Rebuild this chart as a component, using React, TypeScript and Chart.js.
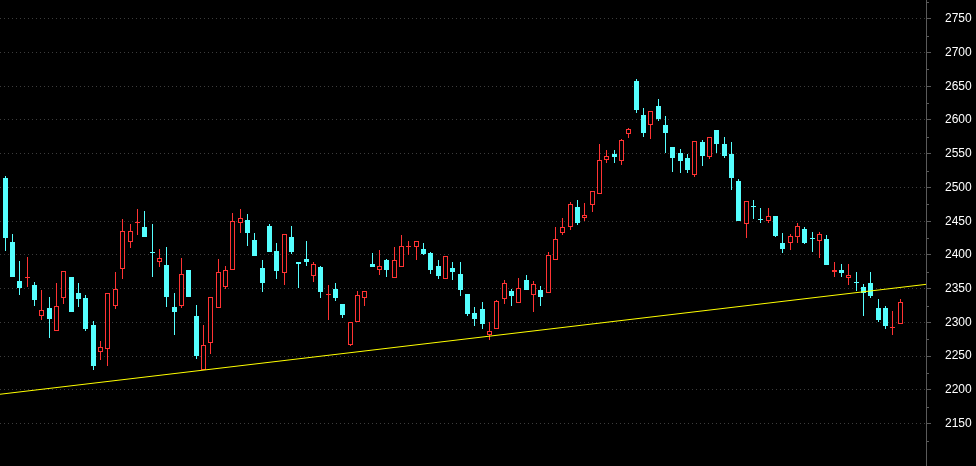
import React, { useEffect, useRef } from 'react';
import { Chart, registerables } from 'chart.js';

Chart.register(...registerables);

// Candle index of the first entry (partially clipped at the left edge)
const firstIndex = -1;

const opens = [
  2514,
  2514, 2419, 2361, 2366, 2355, 2309, 2321, 2287, 2336, 2368,
  2343, 2336, 2296, 2256, 2260, 2324, 2379, 2419, 2447, 2441,
  2404, 2389, 2385, 2323, 2324, 2377, 2310, 2230, 2269, 2322,
  2352, 2377, 2447, 2452, 2422, 2380, 2443, 2406, 2373, 2427,
  2390, 2394, 2369, 2382, 2340, 2350, 2327, 2266, 2301, 2336,
  2386, 2377, 2392, 2366, 2382, 2412, 2412, 2409, 2403, 2384,
  2364, 2381, 2372, 2342, 2314, 2320, 2282, 2291, 2335, 2347,
  2329, 2363, 2340, 2348, 2344, 2393, 2433, 2442, 2471, 2455,
  2474, 2491, 2541, 2550, 2539, 2579, 2658, 2608, 2592, 2620,
  2593, 2560, 2551, 2543, 2519, 2568, 2545, 2585, 2565, 2550,
  2509, 2446, 2472, 2453, 2450, 2458, 2417, 2417, 2427, 2439,
  2425, 2420, 2423, 2375, 2378, 2366, 2360, 2353, 2359, 2321,
  2321, 2292, 2298,
];
const highs = [
  2516,
  2517, 2431, 2391, 2397, 2360, 2348, 2337, 2358, 2376, 2368,
  2359, 2340, 2302, 2273, 2343, 2374, 2453, 2446, 2468, 2465,
  2446, 2409, 2412, 2344, 2396, 2378, 2326, 2296, 2338, 2394,
  2384, 2462, 2468, 2461, 2433, 2393, 2446, 2418, 2431, 2443,
  2390, 2421, 2389, 2383, 2356, 2358, 2328, 2301, 2346, 2347,
  2403, 2408, 2394, 2412, 2430, 2421, 2421, 2418, 2404, 2392,
  2399, 2390, 2390, 2342, 2323, 2330, 2301, 2333, 2363, 2350,
  2366, 2370, 2361, 2354, 2404, 2441, 2454, 2478, 2481, 2477,
  2495, 2565, 2556, 2556, 2572, 2588, 2661, 2618, 2613, 2631,
  2606, 2560, 2557, 2550, 2569, 2571, 2575, 2585, 2575, 2568,
  2513, 2480, 2481, 2470, 2469, 2458, 2433, 2431, 2448, 2442,
  2434, 2434, 2430, 2389, 2387, 2387, 2375, 2357, 2375, 2334,
  2325, 2317, 2334,
];
const lows = [
  2503,
  2406, 2367, 2340, 2352, 2324, 2303, 2277, 2287, 2327, 2315,
  2323, 2288, 2230, 2245, 2235, 2320, 2365, 2410, 2429, 2426,
  2367, 2382, 2323, 2282, 2321, 2337, 2246, 2230, 2253, 2321,
  2350, 2377, 2432, 2413, 2398, 2345, 2404, 2365, 2356, 2401,
  2351, 2384, 2360, 2336, 2303, 2332, 2307, 2265, 2300, 2324,
  2382, 2370, 2367, 2366, 2382, 2400, 2392, 2400, 2372, 2364,
  2364, 2363, 2339, 2310, 2295, 2290, 2274, 2291, 2328, 2325,
  2329, 2348, 2315, 2325, 2344, 2393, 2430, 2437, 2444, 2450,
  2463, 2491, 2536, 2536, 2533, 2573, 2611, 2575, 2572, 2599,
  2551, 2523, 2522, 2522, 2516, 2532, 2542, 2551, 2544, 2496,
  2450, 2425, 2453, 2447, 2447, 2426, 2403, 2408, 2417, 2416,
  2405, 2395, 2385, 2367, 2367, 2355, 2347, 2310, 2336, 2300,
  2291, 2281, 2298,
];
const closes = [
  2506,
  2425, 2368, 2351, 2366, 2333, 2319, 2305, 2324, 2376, 2315,
  2335, 2290, 2236, 2263, 2343, 2350, 2435, 2435, 2447, 2426,
  2403, 2395, 2337, 2315, 2372, 2337, 2251, 2266, 2338, 2375,
  2377, 2450, 2454, 2433, 2399, 2358, 2405, 2376, 2431, 2404,
  2386, 2390, 2387, 2345, 2340, 2336, 2311, 2300, 2340, 2346,
  2382, 2384, 2377, 2393, 2413, 2412, 2421, 2402, 2377, 2369,
  2398, 2375, 2348, 2312, 2305, 2297, 2287, 2332, 2359, 2339,
  2351, 2348, 2357, 2337, 2400, 2423, 2441, 2475, 2447, 2459,
  2494, 2540, 2546, 2545, 2571, 2586, 2614, 2581, 2613, 2602,
  2580, 2544, 2539, 2526, 2569, 2546, 2574, 2565, 2547, 2514,
  2450, 2480, 2471, 2452, 2458, 2428, 2409, 2428, 2443, 2418,
  2424, 2431, 2385, 2378, 2373, 2371, 2359, 2344, 2339, 2303,
  2295, 2292, 2331,
];

// Trend line end values (at left and right edges of the plot)
const trendStart = 2193.6;
const trendEnd = 2356.4;

const xMin = -0.72;
const xMax = 125.5;
const yMin = 2087.3;
const yMax = 2777.7;

const yTickValues = [2150, 2200, 2250, 2300, 2350, 2400, 2450, 2500, 2550, 2600, 2650, 2700, 2750];
const yMinorTickValues = [2125, 2175, 2225, 2275, 2325, 2375, 2425, 2475, 2525, 2575, 2625, 2675, 2725, 2775];

const UP = '#ff3333';
const DOWN = '#55ffff';
const AXIS = '#5a5a5a';

export default function App() {
  const ref = useRef<HTMLCanvasElement>(null);

  useEffect(() => {
    document.body.style.margin = '0';
    document.body.style.background = '#000';
    const canvas = ref.current;
    if (!canvas) return;

    const isUp = closes.map((c, i) => c >= opens[i]);
    const colors = isUp.map((u) => (u ? UP : DOWN));
    const xs = opens.map((_, i) => i + firstIndex);

    const bgPlugin = {
      id: 'bg',
      beforeDraw(chart: any) {
        const ctx = chart.ctx;
        ctx.save();
        ctx.fillStyle = '#000';
        ctx.fillRect(0, 0, chart.width, chart.height);
        ctx.restore();
      },
    };

    // Snap bar elements (computed by the scales) to whole pixels for crisp candles
    const snapPlugin = {
      id: 'snap',
      beforeDatasetsDraw(chart: any) {
        for (const meta of chart.getSortedVisibleDatasetMetas()) {
          if (meta.type !== 'bar') continue;
          for (const el of meta.data) {
            el.x = Math.floor(el.x) + 0.5;
            let top = Math.round(Math.min(el.y, el.base));
            let bot = Math.round(Math.max(el.y, el.base));
            if (bot - top < 1) bot = top + 1;
            el.y = top;
            el.base = bot;
          }
        }
      },
    };

    const minorTicks = {
      id: 'minorTicks',
      afterDraw(chart: any) {
        const y = chart.scales.y;
        const ctx = chart.ctx;
        ctx.save();
        ctx.strokeStyle = AXIS;
        ctx.lineWidth = 1;
        for (const v of yMinorTickValues) {
          const py = Math.round(y.getPixelForValue(v)) + 0.5;
          if (py < 0 || py > chart.height) continue;
          ctx.beginPath();
          ctx.moveTo(y.left, py);
          ctx.lineTo(y.left + 3, py);
          ctx.stroke();
        }
        ctx.restore();
      },
    };

    const chart = new Chart(canvas, {
      type: 'bar',
      data: {
        datasets: [
          {
            type: 'line',
            data: [
              { x: xMin, y: trendStart },
              { x: xMax, y: trendEnd },
            ],
            borderColor: '#ffff00',
            borderWidth: 1,
            pointRadius: 0,
            order: 0,
          } as any,
          {
            data: xs.map((x, i) => ({ x, y: [opens[i], closes[i]] })),
            backgroundColor: isUp.map((u) => (u ? '#000000' : DOWN)),
            borderColor: colors,
            borderWidth: 1,
            borderSkipped: false,
            barThickness: 5,
            minBarLength: 1,
            grouped: false,
            inflateAmount: 0,
            order: 1,
          } as any,
          {
            data: xs.map((x, i) => ({ x, y: [lows[i], highs[i]] })),
            backgroundColor: colors,
            borderWidth: 0,
            barThickness: 1,
            grouped: false,
            inflateAmount: 0,
            order: 2,
          } as any,
        ],
      },
      options: {
        animation: false,
        responsive: false,
        maintainAspectRatio: false,
        layout: { padding: 0 },
        plugins: {
          legend: { display: false },
          tooltip: { enabled: false },
        },
        scales: {
          x: {
            type: 'linear',
            min: xMin,
            max: xMax,
            offset: false,
            display: false,
            grid: { display: false },
          },
          y: {
            position: 'right',
            min: yMin,
            max: yMax,
            afterBuildTicks: (s: any) => {
              s.ticks = yTickValues.map((v) => ({ value: v }));
            },
            afterFit: (s: any) => {
              s.width = 50;
              s.paddingTop = 0;
              s.paddingBottom = 0;
            },
            grid: {
              color: '#3c3c3c',
              tickColor: AXIS,
              tickLength: 5,
              drawTicks: true,
              lineWidth: 1,
            },
            border: { display: true, color: AXIS, dash: [1, 3] },
            ticks: {
              color: '#ffffff',
              padding: 14,
              font: { family: '"Liberation Sans", Arial, sans-serif', size: 12 },
              callback: (v: any) => String(v),
            },
          },
        },
      } as any,
      plugins: [bgPlugin, snapPlugin, minorTicks],
    });

    return () => chart.destroy();
  }, []);

  return (
    <div style={{ position: 'fixed', left: 0, top: 0, width: 976, height: 466, background: '#000' }}>
      <canvas ref={ref} width={976} height={466} style={{ display: 'block' }} />
    </div>
  );
}
